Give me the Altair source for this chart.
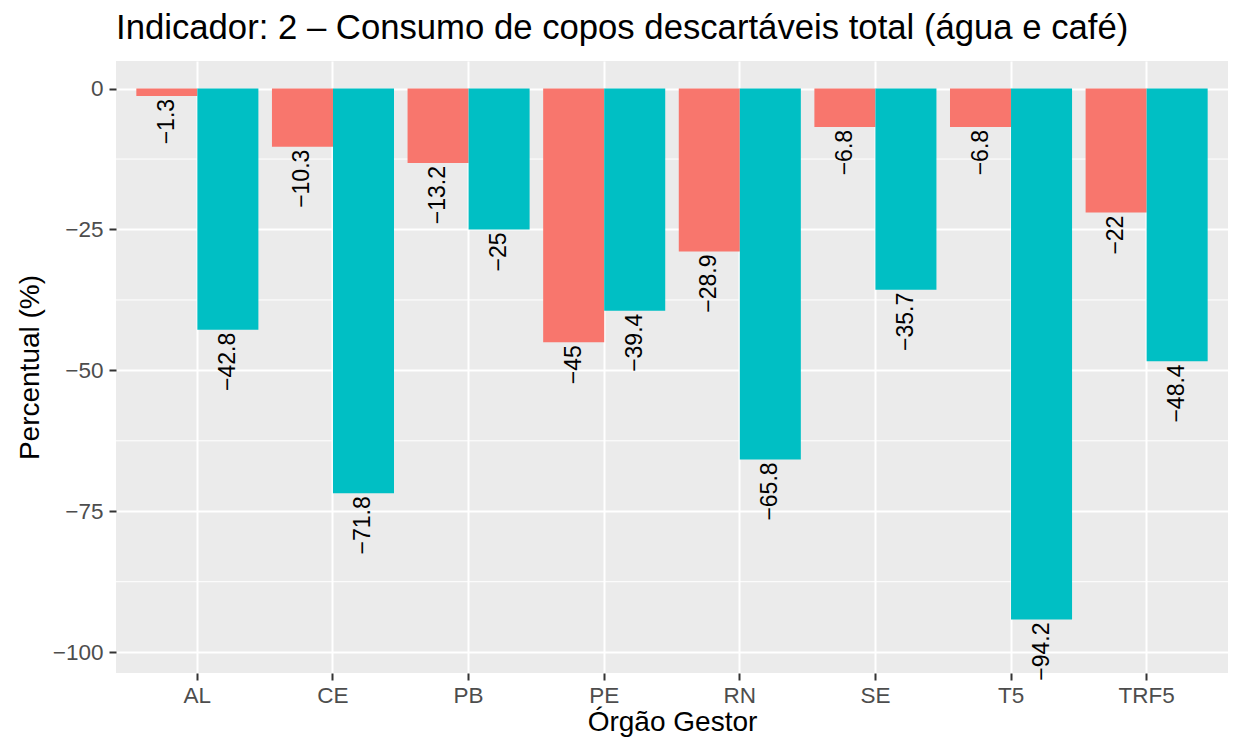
import altair as alt
import pandas as pd

# ---- data ----
orgaos = ["AL", "CE", "PB", "PE", "RN", "SE", "T5", "TRF5"]
serie_a = [-1.3, -10.3, -13.2, -45, -28.9, -6.8, -6.8, -22]
serie_b = [-42.8, -71.8, -25, -39.4, -65.8, -35.7, -94.2, -48.4]
series = ["Série 1", "Série 2"]
cores = ["#F8766D", "#00BFC4"]
y_ticks = [0, -25, -50, -75, -100]
y_minor = [-12.5, -37.5, -62.5, -87.5]
y_domain = [-103.7, 4.9]

FONT = "Liberation Sans"

rows = []
for i, o in enumerate(orgaos):
    rows.append({"orgao": o, "serie": series[0], "valor": serie_a[i]})
    rows.append({"orgao": o, "serie": series[1], "valor": serie_b[i]})
df = pd.DataFrame(rows)

y_scale = alt.Scale(domain=y_domain, nice=False, zero=False)
y_axis = alt.Axis(values=y_ticks, grid=True)

x_enc = alt.X(
    "orgao:N",
    sort=orgaos,
    title="Órgão Gestor",
    scale=alt.Scale(paddingInner=0, paddingOuter=0.1),
    axis=alt.Axis(labelAngle=0, bandPosition=0.5, grid=True),
)
xoff_enc = alt.XOffset(
    "serie:N", sort=series, scale=alt.Scale(paddingInner=0, paddingOuter=0.1111)
)
y_enc = alt.Y("valor:Q", scale=y_scale, title="Percentual (%)", axis=y_axis)

minor = (
    alt.Chart(pd.DataFrame({"v": y_minor}))
    .mark_rule(color="white", strokeWidth=1)
    .encode(y=alt.Y("v:Q", scale=y_scale, title="Percentual (%)", axis=y_axis))
)

base = alt.Chart(df)

bars = base.mark_bar().encode(
    x=x_enc,
    xOffset=xoff_enc,
    y=y_enc,
    color=alt.Color("serie:N", sort=series, scale=alt.Scale(domain=series, range=cores), legend=None),
)

labels = (
    base.transform_calculate(rotulo="replace(toString(datum.valor), '-', '\u2212')")
    .mark_text(angle=270, align="right", baseline="middle", dx=-3, fontSize=23, font=FONT, color="black")
    .encode(x=x_enc, xOffset=xoff_enc, y=y_enc, text="rotulo:N")
)

chart = (
    alt.layer(minor, bars, labels)
    .properties(
        width=1112,
        height=612,
        padding={"left": 108, "top": 53, "right": 0, "bottom": 64},
        autosize="none",
        title=alt.TitleParams(
            "Indicador: 2 \u2013 Consumo de copos descartáveis total (água e café)",
            anchor="start",
            frame="group",
            offset=14,
            font=FONT,
            fontSize=34.7,
            fontWeight="normal",
            color="black",
        ),
    )
    .configure_view(fill="#EBEBEB", strokeWidth=0)
    .configure_axis(
        gridColor="white",
        gridWidth=2,
        domain=False,
        tickColor="#333333",
        tickWidth=2,
        tickSize=7,
        labelFont=FONT,
        labelFontSize=22.5,
        labelColor="#4D4D4D",
        titleFont=FONT,
        titleFontSize=28,
        titleFontWeight="normal",
        titleColor="black",
    )
    .configure_axisY(labelPadding=6, titlePadding=8)
    .configure_axisX(labelPadding=4, titlePadding=2)
)

chart.save("out.html", embed_options={"renderer": "svg", "actions": False})
